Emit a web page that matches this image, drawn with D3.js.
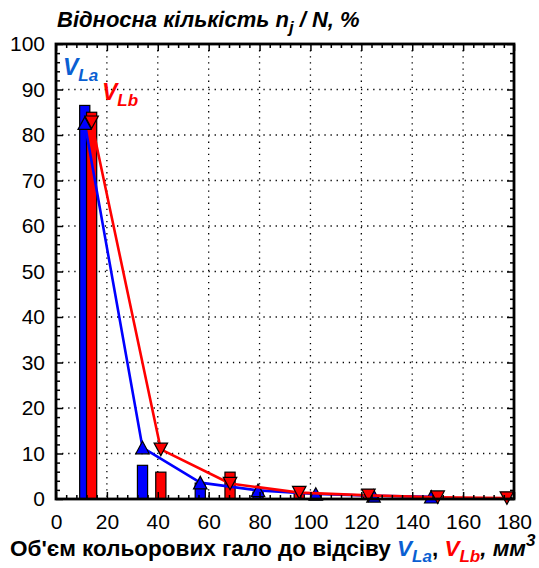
<!DOCTYPE html>
<html>
<head>
<meta charset="utf-8">
<script src="https://cdn.jsdelivr.net/npm/d3@7"></script>
<style>
  html, body { margin: 0; padding: 0; background: #fff; }
  svg { display: block; }
  text { font-family: "Liberation Sans", Arial, sans-serif; }
</style>
</head>
<body>
<div id="chart"></div>
<script>
// ---- data ----
const xMajorTicks = [0, 20, 40, 60, 80, 100, 120, 140, 160, 180];
const yMajorTicks = [0, 10, 20, 30, 40, 50, 60, 70, 80, 90, 100];

const xLa = [11.3, 34.0, 56.7, 79.4, 102.1, 124.8, 147.5];
const barLa = [86.5, 7.4, 3.5, 1.5, 0.9, 0.6, 0.4];
const lineLa = [82.6, 11.3, 3.6, 1.9, 1.1, 0.7, 0.5];

const xLb = [14.0, 41.2, 68.4, 95.6, 122.8, 150.0, 177.2];
const barLb = [85.0, 5.9, 5.9, 1.2, 0.6, 0.4, 0.3];
const lineLb = [82.8, 10.9, 3.4, 1.4, 0.8, 0.4, 0.2];

const titleY = "Відносна кількість n";
const titleX = "Об'єм кольорових гало до відсіву ";

// ---- layout ----
const W = 539, H = 568;
const M = { left: 56, right: 514, top: 44, bottom: 499 };
const BLUE = "#0000ff", RED = "#ff0000", LBLUE = "#0a5fd2";

const svg = d3.select("#chart").append("svg").attr("width", W).attr("height", H);

const x = d3.scaleLinear().domain([0, 180]).range([M.left, M.right]);
const y = d3.scaleLinear().domain([0, 100]).range([M.bottom, M.top]);

const xMinor = d3.range(0, 181, 4).filter(v => v % 20 !== 0);
const yMinor = d3.range(0, 101, 2).filter(v => v % 10 !== 0);

// grid (dotted)
const grid = svg.append("g").attr("stroke", "#000").attr("stroke-width", 1.3)
  .attr("stroke-dasharray", "1.3,4.8");
grid.selectAll(".gx").data(xMajorTicks.filter(v => v > 0 && v < 180)).join("line")
  .attr("x1", d => x(d)).attr("x2", d => x(d)).attr("y1", M.top).attr("y2", M.bottom);
grid.selectAll(".gy").data(yMajorTicks.filter(v => v > 0 && v < 100)).join("line")
  .attr("y1", d => y(d)).attr("y2", d => y(d)).attr("x1", M.left).attr("x2", M.right);

// bars
const bw = x(4) - x(0);
function bars(xs, vs, color) {
  svg.append("g").selectAll("rect").data(vs).join("rect")
    .attr("x", (d, i) => x(xs[i]) - bw / 2)
    .attr("width", bw)
    .attr("y", d => y(d))
    .attr("height", d => y(0) - y(d))
    .attr("fill", color).attr("stroke", "#000").attr("stroke-width", 1.2);
}
bars(xLa, barLa, BLUE);
bars(xLb, barLb, RED);

// lines + markers
function tri(cx, cy, up) {
  const w = 13.5, h = 12.5;
  const p = d3.path();
  if (up) { p.moveTo(cx, cy - h / 2); p.lineTo(cx + w / 2, cy + h / 2); p.lineTo(cx - w / 2, cy + h / 2); }
  else { p.moveTo(cx, cy + h / 2); p.lineTo(cx + w / 2, cy - h / 2); p.lineTo(cx - w / 2, cy - h / 2); }
  p.closePath();
  return p.toString();
}
function series(xs, vs, color, up) {
  const line = d3.line().x((d, i) => x(xs[i])).y(d => y(d));
  svg.append("path").datum(vs).attr("d", line).attr("fill", "none")
    .attr("stroke", color).attr("stroke-width", 2.6).attr("stroke-linejoin", "round");
  svg.append("g").selectAll("path").data(vs).join("path")
    .attr("d", (d, i) => tri(x(xs[i]), y(d), up))
    .attr("fill", color).attr("stroke", "#000").attr("stroke-width", 1.2);
}
series(xLa, lineLa, BLUE, true);
series(xLb, lineLb, RED, false);

// axes
function styleAxis(g) {
  g.select(".domain").remove();
  g.selectAll(".tick line").attr("stroke", "#000").attr("stroke-width", 1.5);
  g.selectAll("text").attr("fill", "#000").style("font-size", "21px")
    .style("font-family", "'Liberation Sans', Arial, sans-serif");
}
// bottom
svg.append("g").attr("transform", `translate(0,${M.bottom})`)
  .call(d3.axisBottom(x).tickValues(xMajorTicks).tickSize(-7).tickPadding(15).tickFormat(d3.format("d")))
  .call(styleAxis);
svg.append("g").attr("transform", `translate(0,${M.bottom})`)
  .call(d3.axisBottom(x).tickValues(xMinor).tickSize(-4).tickFormat(""))
  .call(styleAxis);
// top
svg.append("g").attr("transform", `translate(0,${M.top})`)
  .call(d3.axisTop(x).tickValues(xMajorTicks).tickSize(-7).tickFormat(""))
  .call(styleAxis);
svg.append("g").attr("transform", `translate(0,${M.top})`)
  .call(d3.axisTop(x).tickValues(xMinor).tickSize(-4).tickFormat(""))
  .call(styleAxis);
// left
svg.append("g").attr("transform", `translate(${M.left},0)`)
  .call(d3.axisLeft(y).tickValues(yMajorTicks).tickSize(-7).tickPadding(11).tickFormat(d3.format("d")))
  .call(styleAxis);
svg.append("g").attr("transform", `translate(${M.left},0)`)
  .call(d3.axisLeft(y).tickValues(yMinor).tickSize(-4).tickFormat(""))
  .call(styleAxis);
// right
svg.append("g").attr("transform", `translate(${M.right},0)`)
  .call(d3.axisRight(y).tickValues(yMajorTicks).tickSize(-7).tickFormat(""))
  .call(styleAxis);
svg.append("g").attr("transform", `translate(${M.right},0)`)
  .call(d3.axisRight(y).tickValues(yMinor).tickSize(-4).tickFormat(""))
  .call(styleAxis);

// frame
svg.append("rect").attr("x", M.left).attr("y", M.top)
  .attr("width", M.right - M.left).attr("height", M.bottom - M.top)
  .attr("fill", "none").attr("stroke", "#000").attr("stroke-width", 2.8);

// y title
const ty = svg.append("text").attr("x", 57).attr("y", 27)
  .style("font-size", "22px").style("font-weight", "bold").style("font-style", "italic");
ty.append("tspan").text(titleY);
ty.append("tspan").attr("dy", 6).style("font-size", "17px").text("j");
ty.append("tspan").attr("dy", -6).text(" / N, %");

// x title
const tx = svg.append("text").attr("x", 10).attr("y", 556)
  .style("font-size", "22.5px").style("font-weight", "bold");
tx.append("tspan").text(titleX);
tx.append("tspan").attr("fill", LBLUE).style("font-style", "italic").text("V");
tx.append("tspan").attr("fill", LBLUE).style("font-style", "italic").style("font-size", "17px").attr("dy", 6).text("La");
tx.append("tspan").attr("dy", -6).text(", ");
tx.append("tspan").attr("fill", RED).style("font-style", "italic").text("V");
tx.append("tspan").attr("fill", RED).style("font-style", "italic").style("font-size", "17px").attr("dy", 6).text("Lb");
tx.append("tspan").attr("dy", -6).style("font-style", "italic").text(", мм");
tx.append("tspan").attr("dy", -10).style("font-style", "italic").style("font-size", "17px").text("3");

// legend labels
const la = svg.append("text").attr("x", 63).attr("y", 75)
  .attr("fill", LBLUE).style("font-weight", "bold").style("font-style", "italic").style("font-size", "23px");
la.append("tspan").text("V");
la.append("tspan").attr("dy", 6).style("font-size", "17px").text("La");
const lb = svg.append("text").attr("x", 102).attr("y", 100)
  .attr("fill", RED).style("font-weight", "bold").style("font-style", "italic").style("font-size", "23px");
lb.append("tspan").text("V");
lb.append("tspan").attr("dy", 6).style("font-size", "17px").text("Lb");
</script>
</body>
</html>
